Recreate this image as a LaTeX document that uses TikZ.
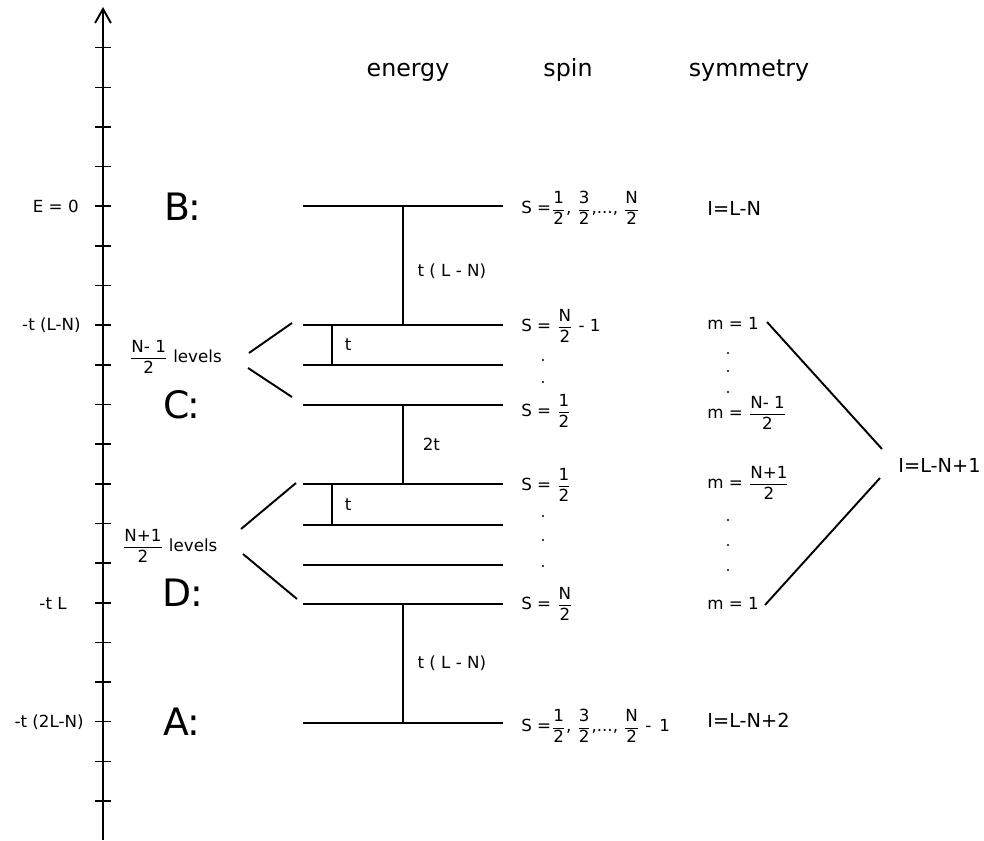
\documentclass[tikz,border=0pt]{standalone}
\usepackage{fontspec}
\setmainfont{DejaVu Sans}
\usetikzlibrary{arrows.meta}
\newcommand\fr[2]{$\displaystyle\frac{\hbox{#1}}{\hbox{#2}}$}
\tikzset{
  level/.style={line width=0.8pt},
  gap/.style={line width=0.6pt},
  split/.style={line width=1.1pt},
  small/.style={font=\fontsize{9.5}{11}\selectfont,inner sep=0pt},
  head/.style={font=\fontsize{13.5}{16}\selectfont,inner sep=0pt},
  sym/.style={font=\fontsize{11}{13}\selectfont,inner sep=0pt},
  big/.style={font=\fontsize{21.5}{24}\selectfont,inner sep=0pt},
}
\begin{document}
\begin{tikzpicture}[x=0.02cm,y=-0.02cm]
\useasboundingbox (0,0) rectangle (984,841);
% energy axis
\draw[line width=1.1pt,-{Straight Barb[length=8pt,width=9pt]}] (103,840) coordinate (axbot) -- (103,7) coordinate (axtop);
\foreach \k in {0,...,19}
  \draw[line width=0.9pt] (95,{801-39.65*\k}) -- ++(16,0);
\node[small,anchor=east] (e0) at (79,206) {E = 0};
\node[small,anchor=east] (eLN) at (81,325) {-t (L-N)};
\node[small,anchor=east] (eL) at (67,603) {-t L};
\node[small,anchor=east] (e2LN) at (84,722) {-t (2L-N)};
% headers
\node[head,anchor=base] (hE) at (408,77) {energy};
\node[head,anchor=base] (hS) at (568,77) {spin};
\node[head,anchor=base] (hY) at (749,77) {symmetry};
% groups
\node[big] (B) at (183,207) {B\kern-1pt:};
\node[big] (C) at (182,405) {C\kern-1pt:};
\node[big] (D) at (183,593) {D\kern-1pt:};
\node[big] (A) at (182,722) {A\kern-1pt:};
% levels
\foreach \n/\y in {B/206,C1/325,C2/365,C3/405,D1/484,D2/525,D3/565,D4/604,A/723}{
  \draw[level] (303,\y) -- (503,\y);
  \coordinate (lv\n) at (403,\y);
  \coordinate (tv\n) at (332,\y);
}
\draw[gap] (lvB) -- node[small,right=8pt,pos=0.55]{t ( L - N)} (lvC1);
\draw[gap] (lvC3) -- node[small,right=11pt]{2t} (lvD1);
\draw[gap] (lvD4) -- node[small,right=8pt]{t ( L - N)} (lvA);
\draw[gap] (tvC1) -- node[small,right=7pt]{t} (tvC2);
\draw[gap] (tvD1) -- node[small,right=7pt]{t} (tvD2);
% splitting
\node[small,anchor=west] (nC) at (129,357) {\fr{N- 1}{2} levels};
\node[small,anchor=west] (nD) at (122,546) {\fr{N+1}{2} levels};
\coordinate (cu1) at (249,353); \coordinate (cu2) at (292,323);
\coordinate (cl1) at (248,368); \coordinate (cl2) at (292,397);
\coordinate (du1) at (241,529); \coordinate (du2) at (296,483);
\coordinate (dl1) at (243,554); \coordinate (dl2) at (297,599);
\draw[split] (cu1) -- (cu2);
\draw[split] (cl1) -- (cl2);
\draw[split] (du1) -- (du2);
\draw[split] (dl1) -- (dl2);
% spin
\node[small,anchor=west] (sB) at (521,208) {S =\fr{1}{2}, \fr{3}{2},..., \fr{N}{2}};
\node[small,anchor=west] (sC1) at (521,326) {S = \fr{N}{2} - 1};
\node[small,anchor=west] (sC3) at (521,411) {S = \fr{1}{2}};
\node[small,anchor=west] (sD1) at (521,485) {S = \fr{1}{2}};
\node[small,anchor=west] (sD4) at (521,604) {S = \fr{N}{2}};
\node[small,anchor=west] (sA) at (521,726) {S =\fr{1}{2}, \fr{3}{2},..., \fr{N}{2} -\, 1};
\foreach \y in {360,382,516,540,566}
  \fill (543,\y) circle (0.7pt);
% symmetry
\node[sym,anchor=west] (yB) at (707,208) {I=L-N};
\node[small,anchor=west] (mC1) at (707,323) {m = 1};
\node[small,anchor=west] (mC3) at (707,413) {m = \fr{N- 1}{2}};
\node[small,anchor=west] (mD1) at (707,483) {m = \fr{N+1}{2}};
\node[small,anchor=west] (mD4) at (707,603) {m = 1};
\foreach \y in {353,371,392,520,545,570}
  \fill (728,\y) circle (0.7pt);
\node[sym,anchor=west] (yCD) at (898,465) {I=L-N+1};
\node[sym,anchor=west] (yA) at (707,720) {I=L-N+2};
\coordinate (mu1) at (767,322); \coordinate (mu2) at (882,449);
\coordinate (ml1) at (765,605); \coordinate (ml2) at (880,478);
\draw[split] (mu1) -- (mu2);
\draw[split] (ml1) -- (ml2);
\end{tikzpicture}
\end{document}
